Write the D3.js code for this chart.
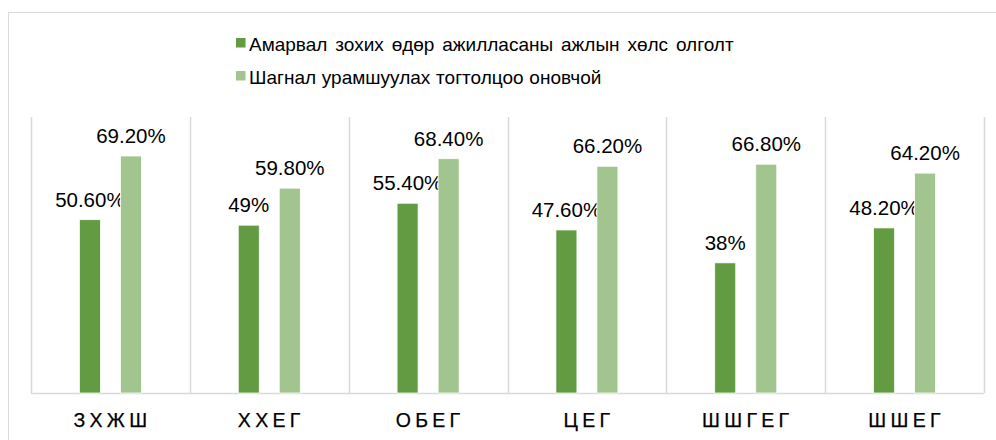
<!DOCTYPE html>
<html lang="mn">

<head>
    <meta charset="UTF-8">
    <title>Bar chart</title>
    <script src="https://d3js.org/d3.v7.min.js"></script>
    <style>
        body { margin: 0; background: #fff; }
        text { font-family: "Liberation Sans", Arial, sans-serif; fill: #000; }
    </style>
</head>

<body>
    <div id="chart"></div>

    <script>
        // chart data
        const categories = ["ЗХЖШ", "ХХЕГ", "ОБЕГ", "ЦЕГ", "ШШГЕГ", "ШШЕГ"];
        const seriesNames = [
            "Амарвал зохих өдөр ажилласаны ажлын хөлс олголт",
            "Шагнал урамшуулах тогтолцоо оновчой"
        ];
        const restPay = [50.6, 49, 55.4, 47.6, 38, 48.2];
        const rewardSystem = [69.2, 59.8, 68.4, 66.2, 66.8, 64.2];
        const valueLabels = [
            ["50.60%", "49%", "55.40%", "47.60%", "38%", "48.20%"],
            ["69.20%", "59.80%", "68.40%", "66.20%", "66.80%", "64.20%"]
        ];
        const colors = ["#629b42", "#a2c590"];
        const legendWordSpacing = ["2.6px", "0.5px"];

        const width = 996, height = 440;
        const svg = d3.select("#chart").append("svg")
            .attr("width", width)
            .attr("height", height);

        // outer frame (right and bottom edges fall outside the picture)
        svg.append("rect")
            .attr("x", 8.5).attr("y", 12.5)
            .attr("width", 1000).attr("height", 440)
            .attr("fill", "none")
            .attr("stroke", "#d9d9d9");

        const x0 = d3.scaleBand().domain(categories).range([31, 984]);
        const x1 = d3.scaleBand().domain([0, 1])
            .range([0, x0.bandwidth()])
            .paddingInner(0.488)
            .paddingOuter(1.18);
        const y = d3.scaleLinear().domain([0, 80]).range([393, 119]);

        // vertical separators between categories
        const seps = categories.map(c => x0(c)).concat([x0.range()[1]]);
        svg.selectAll("line.sep")
            .data(seps)
            .enter()
            .append("line")
            .attr("class", "sep")
            .attr("x1", d => Math.round(d) + 0.5)
            .attr("x2", d => Math.round(d) + 0.5)
            .attr("y1", 117)
            .attr("y2", y(0))
            .attr("stroke", "#d9d9d9")
            .attr("stroke-width", 1.5);

        // baseline
        svg.append("line")
            .attr("x1", 31).attr("x2", 984)
            .attr("y1", y(0) + 0.5).attr("y2", y(0) + 0.5)
            .attr("stroke", "#d9d9d9")
            .attr("stroke-width", 1.5);

        const series = [restPay, rewardSystem];
        series.forEach((vals, s) => {
            const g = svg.append("g");
            g.selectAll("rect")
                .data(vals)
                .enter()
                .append("rect")
                .attr("x", (d, i) => x0(categories[i]) + x1(s))
                .attr("y", d => y(d))
                .attr("width", x1.bandwidth())
                .attr("height", d => y(0) - y(d))
                .attr("fill", colors[s])
                .attr("stroke", "#fff")
                .attr("stroke-width", 0.75);

            g.selectAll("text")
                .data(vals)
                .enter()
                .append("text")
                .attr("x", (d, i) => x0(categories[i]) + x1(s) + x1.bandwidth() / 2)
                .attr("y", d => y(d) - 13)
                .attr("text-anchor", "middle")
                .style("font-size", "20.5px")
                .text((d, i) => valueLabels[s][i]);
        });

        // category labels
        svg.selectAll("text.cat")
            .data(categories)
            .enter()
            .append("text")
            .attr("class", "cat")
            .attr("x", d => x0(d) + x0.bandwidth() / 2 + 2)
            .attr("y", 427)
            .attr("text-anchor", "middle")
            .style("font-size", "19.5px")
            .style("letter-spacing", "4.3px")
            .style("stroke", "#000")
            .style("stroke-width", 0.25)
            .text(d => d);

        // legend
        const legend = svg.selectAll("g.legend")
            .data(seriesNames)
            .enter()
            .append("g")
            .attr("class", "legend")
            .attr("transform", (d, i) => `translate(236,${38 + i * 33})`);

        legend.append("rect")
            .attr("width", 9.5)
            .attr("height", 9.5)
            .attr("fill", (d, i) => colors[i]);

        legend.append("text")
            .attr("x", 13)
            .attr("y", 13)
            .style("font-size", "19px")
            .style("word-spacing", (d, i) => legendWordSpacing[i])
            .text(d => d);
    </script>
</body>

</html>
